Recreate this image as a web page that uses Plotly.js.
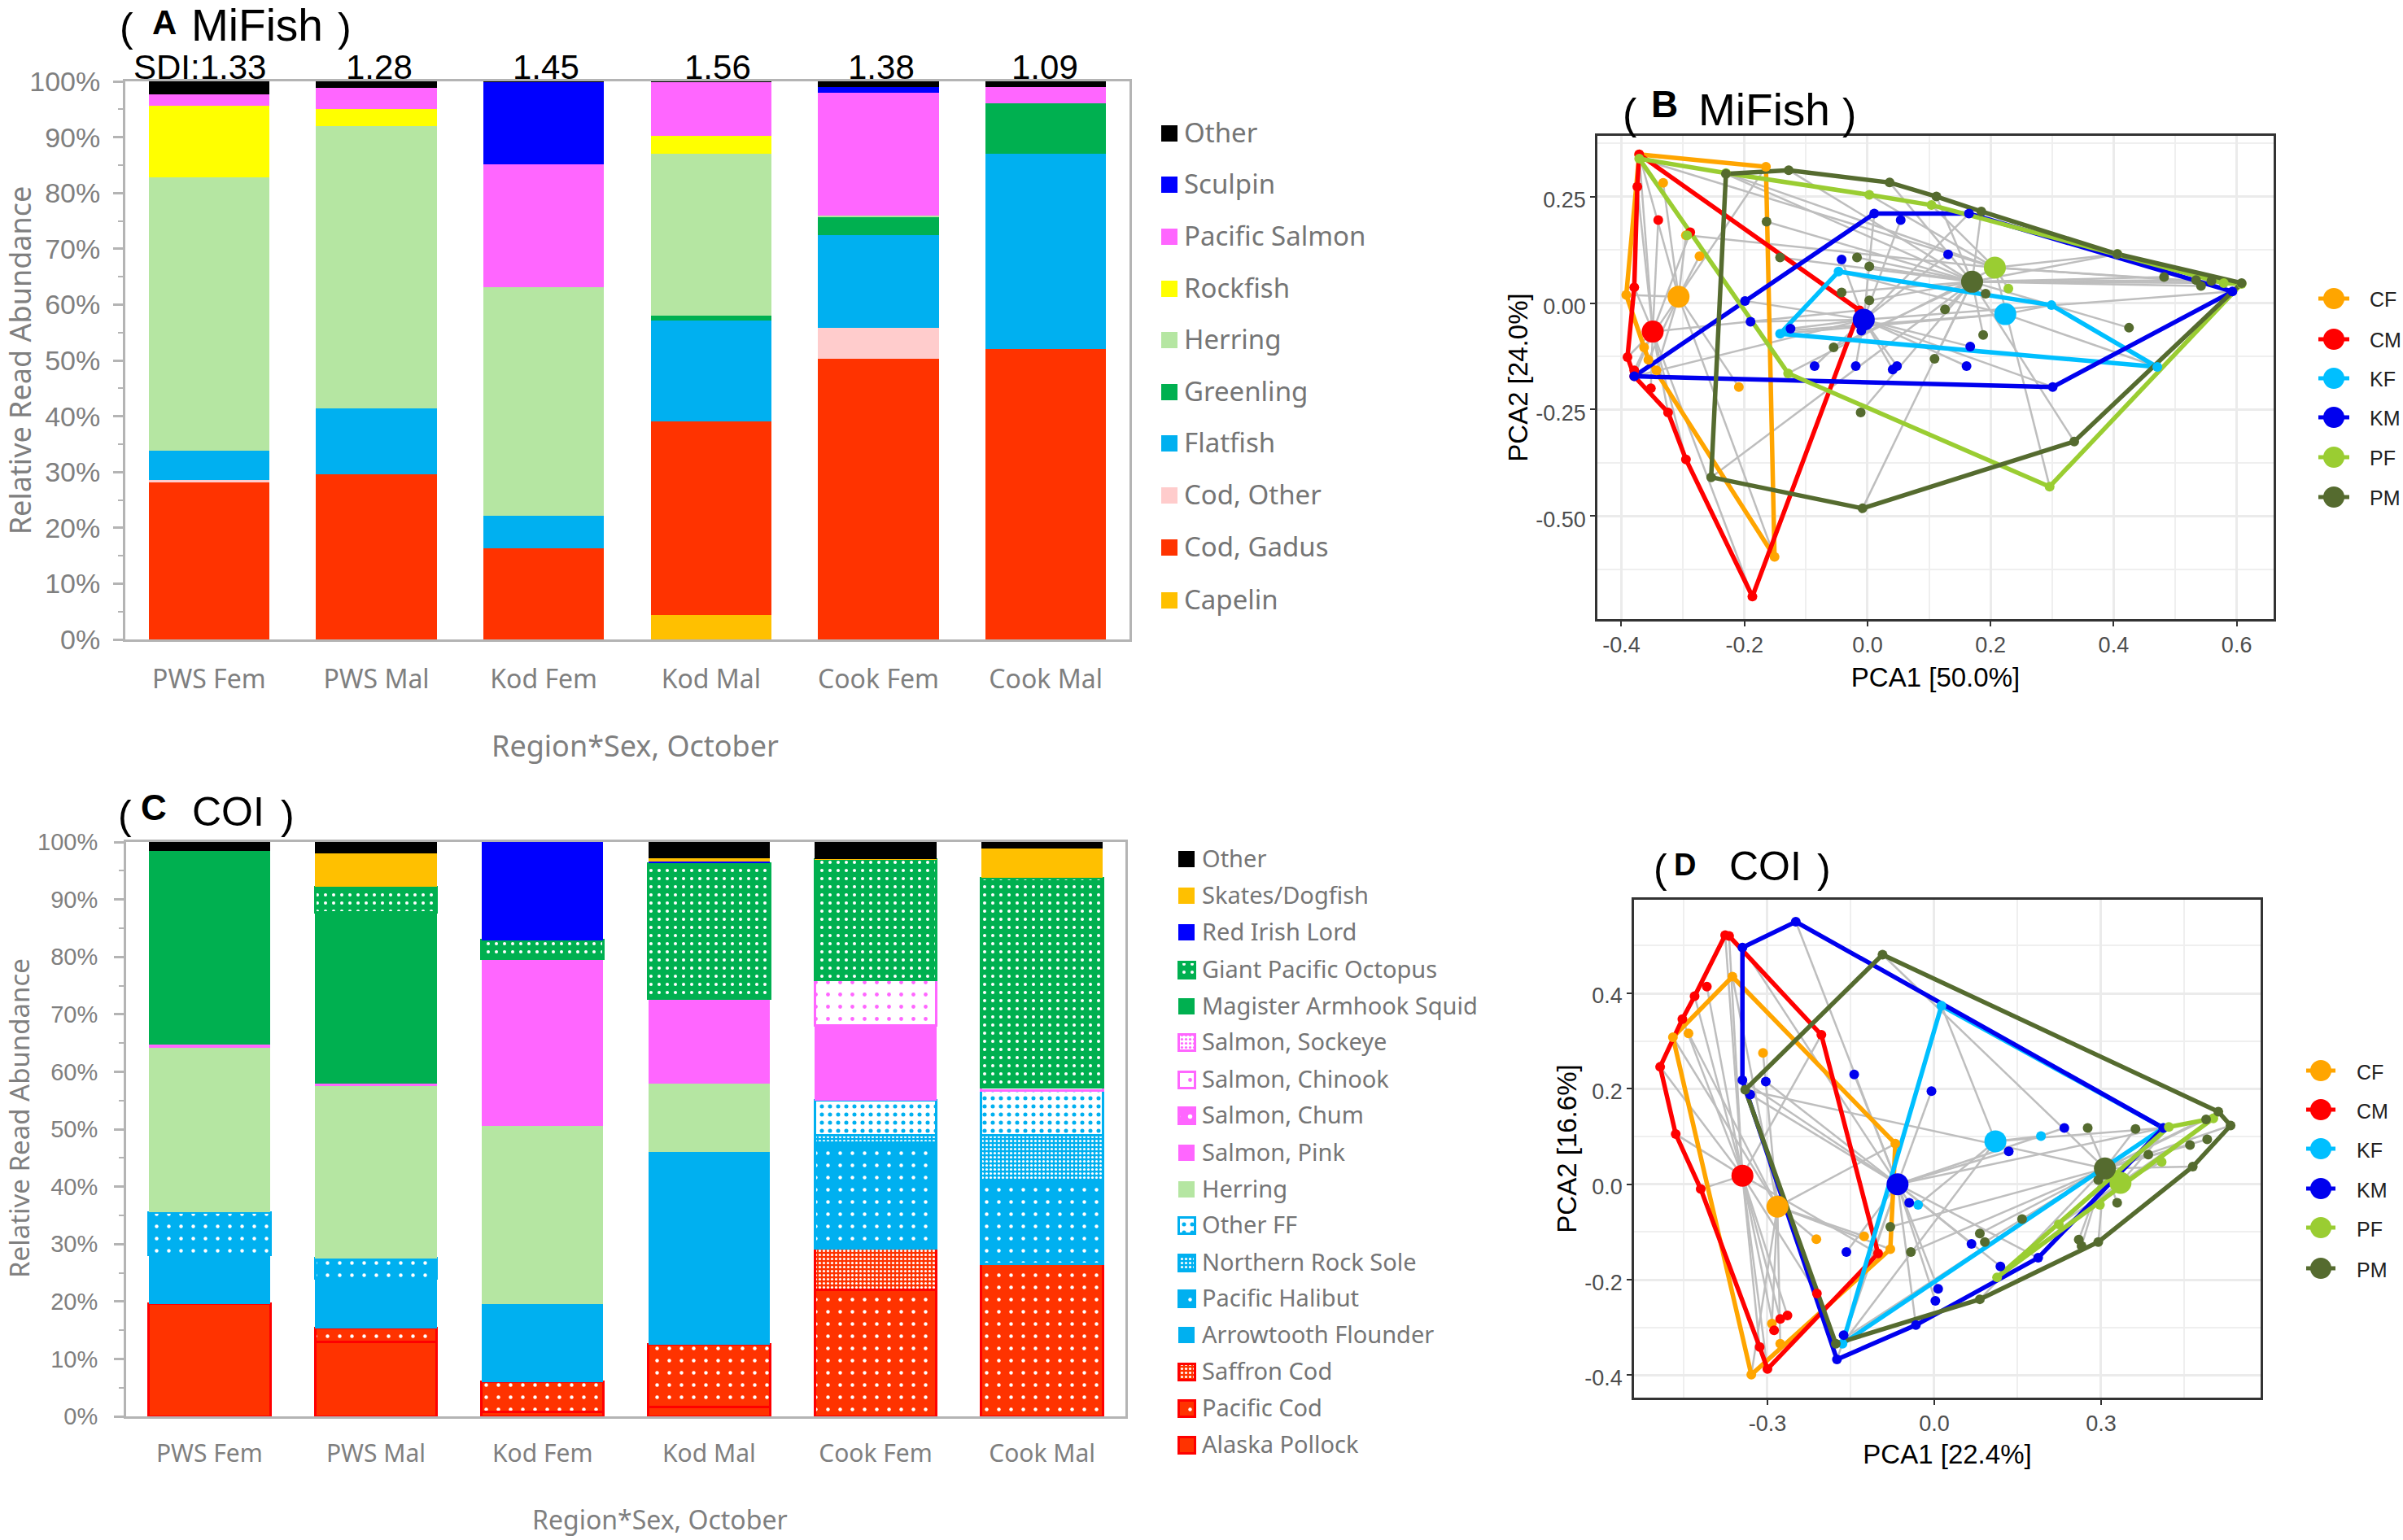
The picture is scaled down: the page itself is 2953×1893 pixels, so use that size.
<!DOCTYPE html>
<html><head><meta charset="utf-8">
<script src="https://cdn.plot.ly/plotly-3.0.1.min.js"></script>
<style>html,body{margin:0;padding:0;background:#fff}</style></head>
<body><div id="chart" style="width:2953px;height:1893px"></div>
<script>
const W=2953,H=1893;
const regions=['PWS Fem','PWS Mal','Kod Fem','Kod Mal','Cook Fem','Cook Mal'];

// Panel A
const aSdi=['SDI:1.33','1.28','1.45','1.56','1.38','1.09'];
const aCapelin=[0,0,0,4.4,0,0];
const aGadus=[28.2,29.6,16.3,34.6,50.3,52.1];
const aCodOther=[0.3,0,0,0,5.5,0];
const aFlatfish=[5.3,11.8,5.9,18.2,16.6,34.9];
const aGreenling=[0,0,0,0.8,3.4,9.1];
const aHerring=[49,50.6,40.9,29,0.2,0];
const aRockfish=[12.8,3,0,3.2,0,0];
const aSalmon=[2,3.8,22.1,9.7,21.9,2.9];
const aSculpin=[0,0,14.7,0,1.1,0];
const aOther=[2.4,1.2,0.1,0.1,1,1];
const aNames=['Capelin','Cod, Gadus','Cod, Other','Flatfish','Greenling','Herring','Rockfish','Pacific Salmon','Sculpin','Other'];
const aSeries=[aCapelin,aGadus,aCodOther,aFlatfish,aGreenling,aHerring,aRockfish,aSalmon,aSculpin,aOther];
const aColors=['#FFC000','#FF3300','#FFCCCC','#00B0F0','#00B050','#B5E6A2','#FFFF00','#FF66FF','#0000FF','#000000'];

// Panel C
const cPollock=[19.6,13,0.8,1.7,0,0];
const cPacCod=[0,2.3,5.2,10.8,22,26.6];
const cSaffron=[0,0,0,0,7.2,0];
const cArrowtooth=[8.5,8.7,13.6,33.5,0,0];
const cHalibut=[7.4,3.5,0,0,18.5,14.4];
const cRockSole=[0,0,0,0,1.3,8];
const cOtherFF=[0,0,0,0,6,7.7];
const cHerring=[28.7,30,30.9,12,0,0];
const cPink=[0.6,0.5,29.2,14.7,13,0];
const cChum=[0,0,0,0,0,0];
const cChinook=[0,0,0,0,8,0.6];
const cSockeye=[0,0,0,0,0,0];
const cSquid=[33.7,29.8,0,0,0,0];
const cOctopus=[0,4.4,3.2,23.6,20.9,36.4];
const cIrishLord=[0,0,17.1,0.3,0,0];
const cSkates=[0,5.8,0,0.5,0.1,5.2];
const cOther=[1.5,2,0,2.9,3,1.1];
const cNames=['Alaska Pollock','Pacific Cod','Saffron Cod','Arrowtooth Flounder','Pacific Halibut','Northern Rock Sole','Other FF','Herring','Salmon, Pink','Salmon, Chum','Salmon, Chinook','Salmon, Sockeye','Magister Armhook Squid','Giant Pacific Octopus','Red Irish Lord','Skates/Dogfish','Other'];
const cSeries=[cPollock,cPacCod,cSaffron,cArrowtooth,cHalibut,cRockSole,cOtherFF,cHerring,cPink,cChum,cChinook,cSockeye,cSquid,cOctopus,cIrishLord,cSkates,cOther];
const cColors=['#FF3300','#FF3300','#FF3300','#00B0F0','#00B0F0','#00B0F0','#00B0F0','#B5E6A2','#FF66FF','#FF66FF','#FF66FF','#FF66FF','#00B050','#00B050','#0000FF','#FFC000','#000000'];
const cLines=['#FF0000','#FF0000','#FF0000','#00B0F0','#00B0F0','#00B0F0','#00B0F0','#B5E6A2','#FF66FF','#FF66FF','#FF66FF','#FF66FF','#00B050','#00B050','#0000FF','#FFC000','#000000'];
// [dot pitch, solidity, white background?]
const cDots=[null,[15,0.07,false],[5,0.32,false],null,[15,0.07,false],[5,0.32,false],[10,0.2,true],null,null,[15,0.1,false],[15,0.08,true],[5,0.32,true],null,[10,0.13,false],null,null,null];

// Panel B ordination
const groups=['CF','CM','KF','KM','PF','PM'];
const groupColors=['#FFA500','#FF0000','#00BFFF','#0000EE','#9ACD32','#556B2F'];
const bHullN=[7,9,4,6,8,10];
const bCFx=[-.371,-.165,-.151,-.343,-.356,-.363,-.392,-.332,-.295,-.273,-.209];
const bCFy=[.349,.320,-.596,-.158,-.133,-.104,.019,.282,.159,.110,-.197];
const bCMx=[-.371,-.013,-.187,-.295,-.324,-.379,-.390,-.379,-.374,-.352,-.340,-.288,-.379];
const bCMy=[.349,-.017,-.689,-.367,-.257,-.172,-.127,.037,.273,-.200,.195,.166,-.158];
const bKFx=[-.047,.299,.471,-.142,-.129];
const bKFy=[.074,-.005,-.150,-.072,-.065];
const bKMx=[.011,.165,.593,.301,-.379,-.199,.054,.131,-.042,-.190,-.125,-.086,-.019,.041,.048,.161,.167,-.010];
const bKMy=[.210,.210,.027,-.197,-.172,.005,.195,.114,.102,-.044,-.060,-.148,-.148,-.156,-.148,-.148,-.102,-.065];
const bPFx=[-.371,-.230,.003,.104,.579,.608,.296,-.129,-.293,.229,.406];
const bPFy=[.339,.305,.254,.230,.047,.045,-.431,-.165,.159,.034,.115];
const bPMx=[-.230,-.128,.036,.112,.185,.406,.608,.336,-.008,-.254,-.164,-.142,-.017,.003,-.042,.003,.126,.188,-.055,.109,-.011,.425,.482,.534,.542,.559,.192];
const bPMy=[.303,.312,.283,.250,.215,.115,.047,-.325,-.482,-.409,.191,.107,.107,.086,.025,.006,-.015,-.075,-.104,-.131,-.257,-.058,.061,.054,.040,.052,.022];
const bCentX=[-.307,-.349,.224,-.006,.207,.170];
const bCentY=[.015,-.067,-.026,-.039,.083,.050];
const bXTicks=[-.4,-.2,0,.2,.4,.6], bXLabels=['-0.4','-0.2','0.0','0.2','0.4','0.6'];
const bYTicks=[-.5,-.25,0,.25], bYLabels=['-0.50','-0.25','0.00','0.25'];

// Panel D ordination
const dHullN=[5,11,3,7,3,8];
const dCFx=[-.363,-.070,-.079,-.329,-.470,-.442,-.308,-.212,-.126,-.292,-.277];
const dCFy=[.435,.085,-.136,-.399,.308,.316,.275,-.115,-.109,-.292,-.334];
const dCMx=[-.376,-.369,-.203,-.101,-.300,-.314,-.420,-.465,-.493,-.453,-.431,-.409,-.264,-.277,-.288,-.211];
const dCMy=[.522,.520,.313,-.145,-.387,-.341,-.010,.105,.246,.346,.394,.414,-.275,-.282,-.306,-.229];
const dKFx=[.013,.412,-.165,.192,-.029];
const dKFy=[.374,.118,-.334,.101,-.043];
const dKMx=[-.345,-.249,.412,.187,-.033,-.175,-.345,-.303,-.331,-.144,-.005,.234,.134,-.045,.067,.119,.007,.002,-.158,-.163];
const dKMy=[.496,.550,.118,-.154,-.295,-.367,.218,.215,.188,.230,.195,.118,.069,-.039,-.125,-.172,-.219,-.244,-.142,-.316];
const dPFx=[.502,.113,.422,.224,.409,.298];
const dPFy=[.138,-.195,.120,-.084,.047,-.043];
const dPMx=[-.093,.511,.533,.465,.295,.082,-.177,-.340,.276,.362,.489,.460,.491,.385,.295,.329,.260,.265,.158,.082,.091,-.042,-.079];
const dPMy=[.481,.152,.123,.037,-.121,-.241,-.334,.198,.118,.116,.136,.082,.094,.062,.009,-.039,-.116,-.129,-.073,-.103,-.121,-.142,-.089];
const dCentX=[-.282,-.345,.110,-.066,.335,.307];
const dCentY=[-.047,.018,.090,0,.003,.033];
const dXTicks=[-.3,0,.3], dXLabels=['-0.3','0.0','0.3'];
const dYTicks=[-.4,-.2,0,.2,.4], dYLabels=['-0.4','-0.2','0.0','0.2','0.4'];

const bX=[bCFx,bCMx,bKFx,bKMx,bPFx,bPMx], bY=[bCFy,bCMy,bKFy,bKMy,bPFy,bPMy];
const dX=[dCFx,dCMx,dKFx,dKMx,dPFx,dPMx], dY=[dCFy,dCMy,dKFy,dKMy,dPFy,dPMy];

const FONT='"Noto Sans", sans-serif', ARIAL='"Liberation Sans", Arial, sans-serif';
const GRAY='#7F7F7F', AXG='#B4B4B4';
const domX=(a,b)=>[a/W,b/W], domY=(a,b)=>[1-b/H,1-a/H];
const traces=[];

function cMarker(i){
  const d=cDots[i], m={color:cColors[i],line:{color:cLines[i],width:(d||i===0)?3:0}};
  if(d) m.pattern={shape:'.',size:d[0],solidity:d[1],fillmode:'replace',
     bgcolor:d[2]?'#FFFFFF':cColors[i],fgcolor:d[2]?cColors[i]:'#FFFFFF'};
  return m;
}
// stacked bars
aNames.forEach((n,i)=>traces.push({type:'bar',name:n,x:regions,y:aSeries[i],width:0.72,xaxis:'x',yaxis:'y',
  marker:{color:aColors[i],line:{width:0}},showlegend:false,hoverinfo:'name+y'}));
cNames.forEach((n,i)=>traces.push({type:'bar',name:n,x:regions,y:cSeries[i],width:0.73,xaxis:'x3',yaxis:'y3',
  marker:cMarker(i),showlegend:false,hoverinfo:'name+y'}));

// ordinations
function ordination(X,Y,cx,cy,hullN,xa,ya){
  groups.forEach((g,k)=>{
    const sx=[],sy=[];
    X[k].forEach((v,j)=>{sx.push(cx[k],v,null);sy.push(cy[k],Y[k][j],null);});
    traces.push({type:'scatter',mode:'lines',name:g+' spider',x:sx,y:sy,xaxis:xa,yaxis:ya,
      line:{color:'#BEBEBE',width:2.5},showlegend:false,hoverinfo:'skip'});
  });
  groups.forEach((g,k)=>{
    const hx=X[k].slice(0,hullN[k]),hy=Y[k].slice(0,hullN[k]);
    hx.push(hx[0]);hy.push(hy[0]);
    traces.push({type:'scatter',mode:'lines',name:g+' hull',x:hx,y:hy,xaxis:xa,yaxis:ya,
      line:{color:groupColors[k],width:5.5},showlegend:false,hoverinfo:'skip'});
  });
  groups.forEach((g,k)=>{
    traces.push({type:'scatter',mode:'markers',name:g,x:X[k],y:Y[k],xaxis:xa,yaxis:ya,
      marker:{color:groupColors[k],size:12},showlegend:false});
    traces.push({type:'scatter',mode:'markers',name:g+' centroid',x:[cx[k]],y:[cy[k]],xaxis:xa,yaxis:ya,
      marker:{color:groupColors[k],size:27},showlegend:false});
  });
}
ordination(bX,bY,bCentX,bCentY,bHullN,'x2','y2');
ordination(dX,dY,dCentX,dCentY,dHullN,'x4','y4');

// legends drawn in a hidden page-sized axis pair
const L='x5',LY='y5';
const aLegY=[738,673,609,545,482,418,355,291,227,164];
const cLegY=[1776,1731,1686,1641,1596,1552,1506,1462,1417,1371,1327,1281,1237,1192,1146,1101,1056];
function barLegend(names,ys,x,wid,markerOf,tx,size,off){
  names.forEach((n,i)=>traces.push({type:'bar',name:n+' key',x:[x],y:[wid],base:[ys[i]-wid/2],width:[wid],
    xaxis:L,yaxis:LY,marker:markerOf(i),showlegend:false,hoverinfo:'skip'}));
  traces.push({type:'scatter',mode:'text',name:'key labels',x:names.map(()=>tx),y:ys.map(v=>v+off),text:names,
    textposition:'middle right',cliponaxis:false,textfont:{family:FONT,size:size,color:'#757575'},
    xaxis:L,yaxis:LY,showlegend:false,hoverinfo:'skip'});
}
barLegend(aNames,aLegY,1437,20,i=>({color:aColors[i],line:{width:0}}),1455,33,3);
barLegend(cNames,cLegY,1458,20,cMarker,1477,29,3);
function lineLegend(ys,cx,half,tx,off){
  groups.forEach((g,k)=>traces.push({type:'scatter',mode:'lines',name:g+' key',x:[cx-half,cx+half],y:[ys[k],ys[k]],
    xaxis:L,yaxis:LY,line:{color:groupColors[k],width:5},showlegend:false,hoverinfo:'skip'}));
  groups.forEach((g,k)=>traces.push({type:'scatter',mode:'markers',name:g+' key',x:[cx],y:[ys[k]],
    xaxis:L,yaxis:LY,marker:{color:groupColors[k],size:26},showlegend:false,hoverinfo:'skip'}));
  traces.push({type:'scatter',mode:'text',name:'key labels',x:groups.map(()=>tx),y:ys.map(v=>v+off),text:groups,
    textposition:'middle right',cliponaxis:false,textfont:{family:ARIAL,size:25,color:'#222222'},
    xaxis:L,yaxis:LY,showlegend:false,hoverinfo:'skip'});
}
lineLegend([367,417,465,513,562,611],2868,19,2912,4);
lineLegend([1316,1364,1412,1461,1509,1559],2852,18,2896,5);

function barX(dom,anchor,size,standoff){
  return {domain:dom,anchor:anchor,type:'category',range:[-0.5,5.5],showgrid:false,zeroline:false,showline:true,mirror:true,
    linecolor:AXG,linewidth:3,ticks:'',ticklabelstandoff:standoff,tickfont:{family:FONT,size:size,color:GRAY},fixedrange:true};
}
function barY(dom,anchor,size,lab,ttl){
  return {domain:dom,anchor:anchor,range:[0,100],dtick:10,ticksuffix:'%',showgrid:false,zeroline:false,showline:true,mirror:true,
    linecolor:AXG,linewidth:3,ticks:'outside',ticklen:12,tickcolor:AXG,tickwidth:3,ticklabelstandoff:lab,
    minor:{dtick:5,ticks:'outside',ticklen:6,tickcolor:AXG,tickwidth:2},
    tickfont:{family:ARIAL,size:size,color:GRAY},fixedrange:true,title:ttl};
}
function pcaAxis(dom,anchor,range,vals,labels,minor,shift,ttl,standoff){
  return {domain:dom,anchor:anchor,range:range,tickmode:'array',tickvals:vals,ticktext:labels,ticklabelshift:shift,
    showgrid:true,gridcolor:'#EBEBEB',gridwidth:3,
    minor:{tick0:0,dtick:minor,showgrid:true,gridcolor:'#EFEFEF',gridwidth:2},
    zeroline:false,showline:true,mirror:true,linecolor:'#333333',linewidth:2.5,ticks:'outside',ticklen:6,tickcolor:'#333333',tickwidth:2,
    tickfont:{family:ARIAL,size:27,color:'#4D4D4D'},fixedrange:true,
    title:{text:ttl,standoff:standoff,font:{family:ARIAL,size:33,color:'#000000'}}};
}
const layout={
  width:W,height:H,margin:{l:0,r:0,t:0,b:0,pad:0},paper_bgcolor:'#fff',plot_bgcolor:'rgba(0,0,0,0)',
  barmode:'stack',showlegend:false,hovermode:'closest',
  xaxis:barX(domX(154,1388),'y',32,19),
  yaxis:barY(domY(100,786),'x',34,9,{text:'Relative Read Abundance',standoff:23,font:{family:FONT,size:36,color:GRAY}}),
  xaxis2:pcaAxis(domX(1963,2794),'y2',[-.4389,.660],bXTicks,bXLabels,.1,0,'PCA1 [50.0%]',14),
  yaxis2:pcaAxis(domY(167,761),'x2',[-.742,.3925],bYTicks,bYLabels,.125,4,'PCA2 [24.0%]',0),
  xaxis3:barX(domX(155,1383),'y3',30,17),
  yaxis3:barY(domY(1035,1741),'x3',29,14,{text:''}),
  xaxis4:pcaAxis(domX(2008,2778),'y4',[-.540,.587],dXTicks,dXLabels,.15,0,'PCA1 [22.4%]',12),
  yaxis4:pcaAxis(domY(1106,1718),'x4',[-.447,.596],dYTicks,dYLabels,.1,3,'PCA2 [16.6%]',0),
  xaxis5:{domain:[0,1],anchor:'y5',range:[0,W],visible:false,fixedrange:true},
  yaxis5:{domain:[0,1],anchor:'x5',range:[H,0],visible:false,fixedrange:true},
  annotations:[]
};
const note=(t,x,y,size,bold,color,fam)=>layout.annotations.push({text:bold?'<b>'+t+'</b>':t,xref:'paper',yref:'paper',
  x:x/W,y:1-y/H,xanchor:'left',yanchor:'middle',showarrow:false,borderpad:0,font:{family:fam||ARIAL,size:size,color:color||'#000'}});
note('(',146,34,50);note('A',186,27,42,true);note('MiFish',234,31,55);note(')',414,34,50);
note('(',1993,140,52);note('B',2028,128,46,true);note('MiFish',2086,135,55);note(')',2263,140,52);
note('(',144,1002,50);note('C',172,993,44,true);note('COI',235,998,50);note(')',344,1002,50);
note('(',2031,1068,50);note('D',2056,1063,38,true);note('COI',2124,1065,50);note(')',2232,1068,50);
note('Region*Sex, October',603,917,36,false,GRAY,FONT);
note('Region*Sex, October',653,1867,32,false,GRAY,FONT);
layout.annotations.push({text:'Relative Read Abundance',xref:'paper',yref:'paper',x:23/W,y:1-1375/H,textangle:-90,
  xanchor:'center',yanchor:'middle',showarrow:false,font:{family:FONT,size:33,color:GRAY}});
const sdiShift=[-11,3,3,8,3,-1];
aSdi.forEach((s,i)=>layout.annotations.push({text:s,xref:'x',yref:'y',x:regions[i],y:100,xshift:sdiShift[i],yshift:-8,
  yanchor:'bottom',showarrow:false,font:{family:ARIAL,size:42,color:'#000'}}));

Plotly.newPlot('chart',traces,layout,{displayModeBar:false,responsive:false});
</script></body></html>
